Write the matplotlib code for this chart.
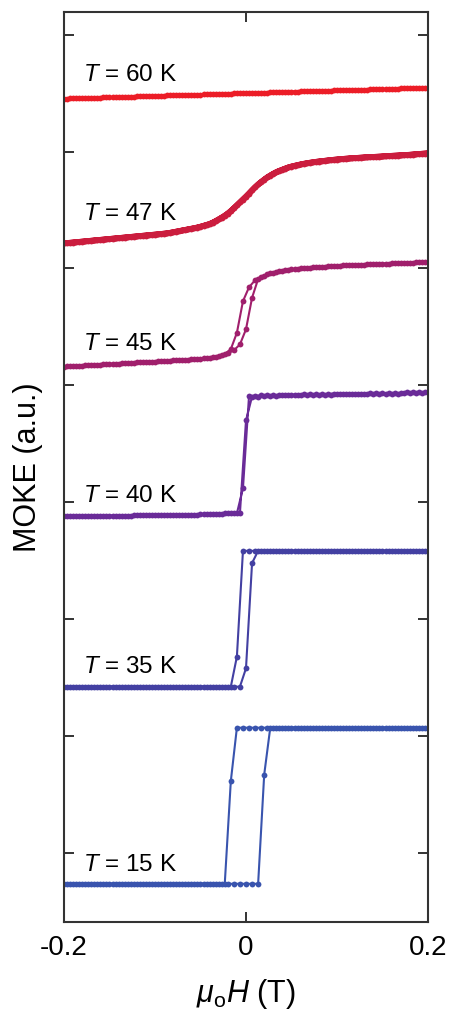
import numpy as np
import matplotlib
matplotlib.use('Agg')
import matplotlib.pyplot as plt

plt.rcParams['font.family'] = ['Liberation Sans', 'DejaVu Sans']
plt.rcParams['mathtext.fontset'] = 'custom'
plt.rcParams['mathtext.rm'] = 'Liberation Sans'
plt.rcParams['mathtext.it'] = 'Liberation Sans:italic'
plt.rcParams['axes.unicode_minus'] = False

# field setpoints of the two sweeps (T)
H_up = np.linspace(-0.2, 0.2, 61)
H_down = np.linspace(0.2 - 1 / 300, -0.2 + 1 / 300, 60)

temps = ['60', '47', '45', '40', '35', '15']
colors = ['#EC1D27', '#CB1D3E', '#A01F6C', '#6A2B98', '#4340A2', '#3954AE']

# MOKE signal, vertically offset per temperature (a.u.)
m60_down = [6.546, 6.545, 6.543, 6.542, 6.540, 6.538, 6.537, 6.535, 6.534, 6.532,
            6.531, 6.529, 6.527, 6.526, 6.524, 6.523, 6.521, 6.520, 6.518, 6.516,
            6.515, 6.513, 6.512, 6.510, 6.509, 6.507, 6.505, 6.504, 6.502, 6.501,
            6.499, 6.498, 6.496, 6.495, 6.493, 6.491, 6.490, 6.488, 6.487, 6.485,
            6.484, 6.482, 6.480, 6.479, 6.477, 6.476, 6.474, 6.473, 6.471, 6.469,
            6.468, 6.466, 6.465, 6.463, 6.462, 6.460, 6.458, 6.457, 6.455, 6.454]
m60_up = [6.453, 6.455, 6.456, 6.458, 6.459, 6.461, 6.462, 6.464, 6.466, 6.467,
          6.469, 6.470, 6.472, 6.473, 6.475, 6.477, 6.478, 6.480, 6.481, 6.483,
          6.484, 6.486, 6.487, 6.489, 6.491, 6.492, 6.494, 6.495, 6.497, 6.498,
          6.500, 6.502, 6.503, 6.505, 6.506, 6.508, 6.509, 6.511, 6.513, 6.514,
          6.516, 6.517, 6.519, 6.520, 6.522, 6.523, 6.525, 6.527, 6.528, 6.530,
          6.531, 6.533, 6.534, 6.536, 6.538, 6.539, 6.541, 6.542, 6.544, 6.545, 6.547]

m47_down = [5.983, 5.979, 5.975, 5.971, 5.968, 5.965, 5.962, 5.958, 5.955, 5.953,
            5.950, 5.946, 5.943, 5.939, 5.935, 5.930, 5.924, 5.918, 5.912, 5.904,
            5.895, 5.884, 5.872, 5.855, 5.835, 5.810, 5.780, 5.740, 5.695, 5.640,
            5.590, 5.540, 5.490, 5.450, 5.420, 5.390, 5.372, 5.357, 5.345, 5.335,
            5.325, 5.315, 5.305, 5.298, 5.292, 5.287, 5.282, 5.277, 5.272, 5.267,
            5.262, 5.257, 5.252, 5.247, 5.242, 5.237, 5.232, 5.227, 5.222, 5.217]
m47_up = [5.215, 5.220, 5.225, 5.230, 5.235, 5.240, 5.245, 5.250, 5.255, 5.260,
          5.265, 5.270, 5.275, 5.280, 5.285, 5.290, 5.295, 5.300, 5.310, 5.320,
          5.330, 5.340, 5.350, 5.365, 5.380, 5.405, 5.435, 5.470, 5.515, 5.565,
          5.615, 5.670, 5.720, 5.760, 5.795, 5.825, 5.845, 5.865, 5.878, 5.890,
          5.900, 5.908, 5.915, 5.921, 5.927, 5.932, 5.937, 5.941, 5.945, 5.948,
          5.951, 5.954, 5.957, 5.960, 5.963, 5.966, 5.969, 5.972, 5.977, 5.981, 5.985]

m45_down = [5.056, 5.053, 5.050, 5.048, 5.046, 5.044, 5.042, 5.040, 5.038, 5.036,
            5.034, 5.032, 5.030, 5.027, 5.024, 5.021, 5.018, 5.015, 5.012, 5.008,
            5.003, 4.998, 4.993, 4.986, 4.977, 4.965, 4.950, 4.930, 4.900, 4.840,
            4.720, 4.450, 4.310, 4.268, 4.252, 4.242, 4.235, 4.229, 4.225, 4.221,
            4.218, 4.215, 4.212, 4.209, 4.206, 4.203, 4.200, 4.197, 4.195, 4.192,
            4.189, 4.186, 4.183, 4.180, 4.177, 4.174, 4.171, 4.168, 4.165, 4.162]
m45_up = [4.160, 4.163, 4.166, 4.169, 4.172, 4.175, 4.178, 4.181, 4.184, 4.187,
          4.190, 4.193, 4.196, 4.198, 4.201, 4.204, 4.207, 4.210, 4.213, 4.216,
          4.219, 4.223, 4.227, 4.232, 4.238, 4.246, 4.258, 4.275, 4.300, 4.350,
          4.480, 4.750, 4.910, 4.940, 4.958, 4.972, 4.982, 4.990, 4.996, 5.001,
          5.006, 5.010, 5.014, 5.017, 5.020, 5.023, 5.026, 5.029, 5.031, 5.033,
          5.035, 5.037, 5.039, 5.041, 5.043, 5.045, 5.047, 5.049, 5.052, 5.055, 5.058]

m40_down = [3.940] * 4 + [3.935] * 6 + [3.930] * 6 + [3.925] * 5 + [3.920] * 4 + \
           [3.915] * 3 + [3.910] * 2 + [3.12] + \
           [2.905] * 3 + [2.900] * 4 + [2.895] * 5 + [2.890] * 6 + [2.885] * 6 + [2.880] * 5
m40_up = [2.880] * 6 + [2.885] * 6 + [2.890] * 6 + [2.895] * 5 + [2.900] * 4 + \
         [2.905] * 3 + [3.70] + \
         [3.905] * 2 + [3.910] * 3 + [3.915] * 4 + [3.920] * 5 + [3.925] * 5 + \
         [3.930] * 6 + [3.935] * 4 + [3.940]

m35_down = [2.585] * 31 + [1.68] + [1.423] * 28
m35_up = [1.423] * 30 + [1.58, 2.48] + [2.585] * 29

m15_down = [1.072] * 32 + [0.616] + [-0.263] * 27
m15_up = [-0.263] * 33 + [0.67] + [1.072] * 27

loops = [(m60_down, m60_up), (m47_down, m47_up), (m45_down, m45_up),
         (m40_down, m40_up), (m35_down, m35_up), (m15_down, m15_up)]
label_y = [6.60, 5.415, 4.303, 3.005, 1.537, -0.151]

fig = plt.figure(figsize=(4.5, 10.16), dpi=100)
ax = fig.add_axes([0.1422, 0.0925, 0.8089, 0.8957])

H = np.concatenate([H_down, H_up])
for t, c, (down, up), ly in zip(temps, colors, loops, label_y):
    lw = 4.2 if t == '47' else 1.5
    ax.plot(H, down + up, '-o', color=c, lw=lw, ms=4.2, mew=0, zorder=2)
    ax.text(-0.179, ly, r'$T$ = ' + t + ' K', fontsize=17.5, ha='left', va='baseline')

ax.set_xlim(-0.2, 0.2)
ax.set_ylim(-0.59, 7.194)
ax.set_xticks([-0.2, 0, 0.2])
ax.set_xticklabels(['-0.2', '0', '0.2'])
ax.set_yticks(range(8))
ax.set_yticklabels([])
ax.tick_params(direction='in', top=True, right=True, length=7, width=1.4,
               color='#333333', labelsize=20, pad=9)
for s in ax.spines.values():
    s.set_linewidth(1.5)
    s.set_color('#333333')
    s.set_zorder(3)

ax.set_xlabel(r'$\mu_{\rm o}H$ (T)', fontsize=22, labelpad=12)
ax.set_ylabel('MOKE (a.u.)', fontsize=22, labelpad=6)

fig.savefig('out.png', dpi=100)
